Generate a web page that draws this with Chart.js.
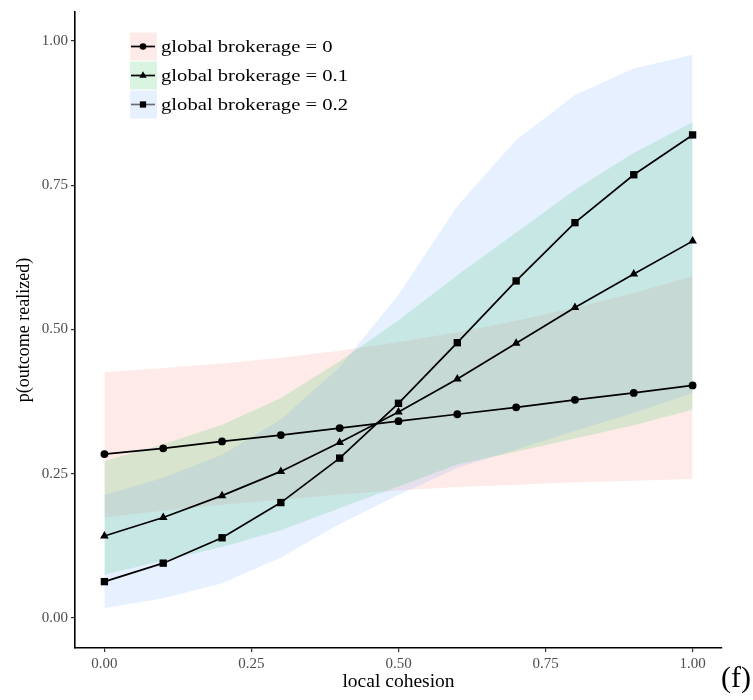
<!DOCTYPE html>
<html>
<head>
<meta charset="utf-8">
<script src="https://cdn.jsdelivr.net/npm/chart.js@4.4.1/dist/chart.umd.min.js"></script>
<style>
  html, body { margin: 0; padding: 0; background: #ffffff; }
  #wrap { width: 753px; height: 700px; position: relative; }
</style>
</head>
<body>
<div id="wrap"><canvas id="c" width="753" height="700"></canvas></div>
<script>
// ---- data ----
const localCohesion = [0, 0.1, 0.2, 0.3, 0.4, 0.5, 0.6, 0.7, 0.8, 0.9, 1.0];
const seriesLabels = ['global brokerage = 0', 'global brokerage = 0.1', 'global brokerage = 0.2'];

const gb0    = [0.284, 0.294, 0.306, 0.317, 0.329, 0.341, 0.353, 0.365, 0.378, 0.390, 0.403];
const gb0Lo  = [0.174, 0.186, 0.196, 0.205, 0.214, 0.221, 0.227, 0.231, 0.235, 0.238, 0.241];
const gb0Hi  = [0.426, 0.433, 0.441, 0.451, 0.463, 0.478, 0.495, 0.515, 0.538, 0.563, 0.592];

const gb1    = [0.142, 0.174, 0.212, 0.254, 0.304, 0.357, 0.414, 0.476, 0.538, 0.596, 0.653];
const gb1Lo  = [0.075, 0.099, 0.123, 0.152, 0.190, 0.228, 0.266, 0.288, 0.311, 0.334, 0.361];
const gb1Hi  = [0.272, 0.301, 0.335, 0.381, 0.445, 0.516, 0.594, 0.668, 0.742, 0.806, 0.859];

const gb2    = [0.063, 0.095, 0.139, 0.200, 0.277, 0.372, 0.477, 0.584, 0.685, 0.768, 0.837];
const gb2Lo  = [0.017, 0.034, 0.060, 0.105, 0.163, 0.213, 0.260, 0.292, 0.324, 0.355, 0.390];
const gb2Hi  = [0.213, 0.243, 0.283, 0.344, 0.435, 0.560, 0.714, 0.828, 0.906, 0.952, 0.976];

const xTicks = [0, 0.25, 0.5, 0.75, 1.0];
const yTicks = [0, 0.25, 0.5, 0.75, 1.0];
const xTitle = 'local cohesion';
const yTitle = 'p(outcome realized)';
const panelTag = '(f)';

// ---- styles ----
const bandColors = ['rgba(248,118,109,0.15)', 'rgba(0,186,56,0.15)', 'rgba(97,156,255,0.15)'];
const keyColors = ['rgb(254,235,233)', 'rgb(217,244,225)', 'rgb(231,240,255)'];
const pointStyles = ['circle', 'triangle', 'rect'];
const pointRadii = [3.9, 5.0, 5.2];
const SERIF = '"Liberation Serif", "Times New Roman", serif';

const toXY = arr => arr.map((v, i) => ({x: localCohesion[i], y: v}));

const means = [gb0, gb1, gb2];
const los = [gb0Lo, gb1Lo, gb2Lo];
const his = [gb0Hi, gb1Hi, gb2Hi];

const datasets = [];
// bands (drawn first: higher order is drawn earlier)
for (let s = 0; s < 3; s++) {
  const loIndex = datasets.length;
  datasets.push({
    label: 'lo' + s, data: toXY(los[s]), order: 3 - s + 1,
    borderWidth: 0, pointRadius: 0, fill: false, showLine: true,
    borderColor: 'rgba(0,0,0,0)'
  });
  datasets.push({
    label: 'hi' + s, data: toXY(his[s]), order: 3 - s + 1,
    borderWidth: 0, pointRadius: 0, showLine: true,
    borderColor: 'rgba(0,0,0,0)',
    backgroundColor: bandColors[s],
    fill: {target: loIndex}
  });
}
// mean lines
for (let s = 0; s < 3; s++) {
  datasets.push({
    label: seriesLabels[s], data: toXY(means[s]), order: 0,
    borderColor: '#000', borderWidth: 1.7, fill: false,
    pointStyle: pointStyles[s], pointRadius: pointRadii[s],
    pointBackgroundColor: '#000', pointBorderColor: '#000', pointBorderWidth: 0,
    tension: 0
  });
}

function drawMarker(ctx, style, x, y, r) {
  ctx.beginPath();
  if (style === 'circle') {
    ctx.arc(x, y, r, 0, Math.PI * 2);
  } else if (style === 'triangle') {
    ctx.moveTo(x, y - r);
    ctx.lineTo(x + r * Math.sin(Math.PI * 2 / 3), y - r * Math.cos(Math.PI * 2 / 3));
    ctx.lineTo(x - r * Math.sin(Math.PI * 2 / 3), y - r * Math.cos(Math.PI * 2 / 3));
    ctx.closePath();
  } else {
    const h = Math.SQRT1_2 * r;
    ctx.rect(x - h, y - h, 2 * h, 2 * h);
  }
  ctx.fill();
}

const legendPlugin = {
  id: 'insideLegend',
  afterDraw(chart) {
    const ctx = chart.ctx;
    ctx.save();
    const boxX = 130, boxW = 27, boxH = 28;
    const centers = [46.5, 75.5, 104.5];
    for (let s = 0; s < 3; s++) {
      const cy = centers[s];
      ctx.fillStyle = keyColors[s];
      ctx.fillRect(boxX, cy - boxH / 2, boxW, boxH);
      ctx.strokeStyle = s === 2 ? 'rgba(0,0,0,0.55)' : '#000';
      ctx.lineWidth = 1.7;
      ctx.beginPath();
      ctx.moveTo(boxX + 1, cy);
      ctx.lineTo(boxX + boxW - 2, cy);
      ctx.stroke();
      ctx.fillStyle = '#000';
      drawMarker(ctx, pointStyles[s], boxX + boxW / 2 - 0.5, cy, pointRadii[s] * 0.85);
      ctx.save();
      ctx.translate(161, cy + 1);
      ctx.scale(1.18, 1);
      ctx.font = '17.5px ' + SERIF;
      ctx.textBaseline = 'middle';
      ctx.textAlign = 'left';
      ctx.fillText(seriesLabels[s], 0, 0);
      ctx.restore();
    }
    // panel tag
    ctx.font = '30px ' + SERIF;
    ctx.textAlign = 'left';
    ctx.textBaseline = 'middle';
    ctx.fillStyle = '#000';
    ctx.fillText(panelTag, 721, 679);
    ctx.restore();
  }
};

new Chart(document.getElementById('c'), {
  type: 'line',
  data: { datasets },
  options: {
    responsive: false,
    animation: false,
    devicePixelRatio: 1,
    layout: { padding: { top: 8, right: 31, left: 0, bottom: 0 } },
    plugins: { legend: { display: false }, tooltip: { enabled: false } },
    scales: {
      x: {
        type: 'linear', min: -0.05, max: 1.05,
        afterBuildTicks: sc => { sc.ticks = xTicks.map(v => ({value: v})); },
        afterFit: sc => { sc.height = 52; },
        border: { display: true, color: '#000', width: 1.6 },
        grid: { drawOnChartArea: false, drawTicks: true, tickLength: 4, color: '#333', lineWidth: 1.2 },
        ticks: { color: '#4d4d4d', font: { family: SERIF, size: 15 }, padding: 3, maxRotation: 0,
                 callback: v => Number(v).toFixed(2) },
        title: { display: true, text: xTitle, color: '#000', font: { family: SERIF, size: 19.5 },
                 padding: { top: 0, bottom: 6 } }
      },
      y: {
        type: 'linear', min: -0.052, max: 1.05,
        afterBuildTicks: sc => { sc.ticks = yTicks.map(v => ({value: v})); },
        afterFit: sc => { sc.width = 75; },
        border: { display: true, color: '#000', width: 1.6 },
        grid: { drawOnChartArea: false, drawTicks: true, tickLength: 4, color: '#333', lineWidth: 1.2 },
        ticks: { color: '#4d4d4d', font: { family: SERIF, size: 15 }, padding: 3,
                 callback: v => Number(v).toFixed(2) },
        title: { display: true, text: yTitle, color: '#000', font: { family: SERIF, size: 18 },
                 padding: { top: 13, bottom: 0 } }
      }
    }
  },
  plugins: [legendPlugin]
});
</script>
</body>
</html>
